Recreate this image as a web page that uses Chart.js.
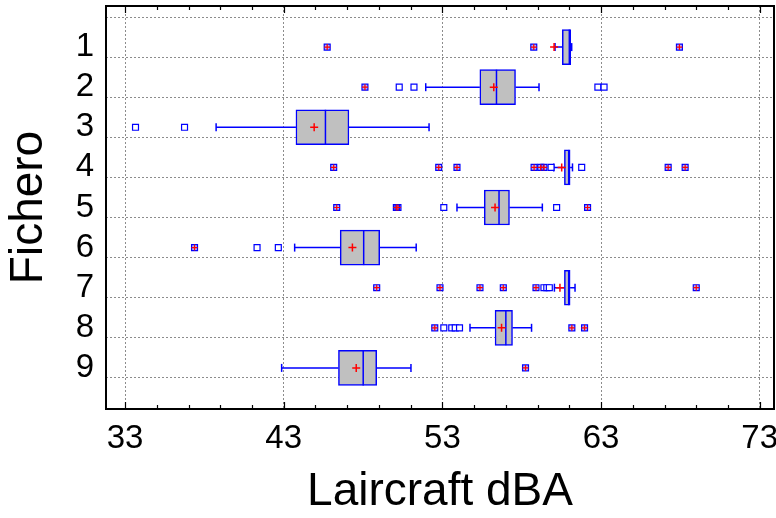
<!DOCTYPE html>
<html>
<head>
<meta charset="utf-8">
<script src="https://cdn.jsdelivr.net/npm/chart.js@4"></script>
<style>body{margin:0;background:#fff}</style>
</head>
<body>
<canvas id="boxChart" width="776" height="518"></canvas>
<script>
// box plot values per fichero (dBA)
const fichero = [1, 2, 3, 4, 5, 6, 7, 8, 9];
const whiskerLow  = [60.10, 51.95, 38.74, 60.02, 53.92, 43.69, 60.06, 54.74, 42.87];
const q1          = [60.56, 55.36, 43.77, 60.69, 55.64, 46.56, 60.69, 56.32, 46.45];
const median      = [61.00, 56.41, 45.63, 60.96, 56.57, 48.04, 60.96, 57.00, 48.01];
const q3          = [61.09, 57.61, 47.11, 61.05, 57.23, 49.05, 61.05, 57.42, 48.86];
const whiskerHigh = [61.15, 59.09, 52.16, 61.20, 59.30, 51.35, 61.36, 58.62, 51.02];
const mean        = [60.04, 56.24, 44.92, 60.52, 56.32, 47.33, 60.41, 56.73, 47.57];
// outside points (open squares) and far outside points (squares with +)
const outside = [
  [],
  [50.28, 51.21, 62.80, 63.19],
  [33.66, 36.75],
  [59.85, 61.78],
  [53.09, 60.20],
  [41.32, 42.66],
  [59.40, 59.58, 59.74],
  [53.09, 53.59, 53.81, 54.08],
  []
];
const farOutside = [
  [45.74, 58.76, 67.94],
  [48.12],
  [],
  [46.15, 52.77, 53.92, 58.78, 59.20, 59.40, 67.23, 68.30],
  [46.34, 50.10, 50.20, 62.15],
  [37.38],
  [48.86, 52.85, 55.37, 56.84, 58.90, 69.00],
  [52.52, 61.16, 61.96],
  [58.24]
];
const xTicks = [33, 43, 53, 63, 73];
const minorStep = 2;

const BLUE = '#0000ff';
const RED = '#ff0000';
const FONT = "'Liberation Sans', Arial, sans-serif";

function pointsAt(values) {
  return values.map((v, i) => ({ x: v, y: fichero[i] }));
}

function groupPoints(groups) {
  const out = [];
  groups.forEach((vals, i) => vals.forEach(v => out.push({ x: v, y: fichero[i] })));
  return out;
}

// whisker segments, broken with null points between them
const whiskerData = [];
fichero.forEach((f, i) => {
  whiskerData.push({ x: whiskerLow[i], y: f }, { x: q1[i], y: f }, { x: null, y: null });
  whiskerData.push({ x: q3[i], y: f }, { x: whiskerHigh[i], y: f }, { x: null, y: null });
});

const boxData = fichero.map((f, i) => ({ x: [q1[i], q3[i]], y: f }));

const frame = {
  id: 'frame',
  afterDatasetsDraw(chart) {
    const { ctx, chartArea: a, scales: { x } } = chart;
    const first = xTicks[0], last = xTicks[xTicks.length - 1];
    const major = xTicks[1] - xTicks[0];
    ctx.save();
    ctx.strokeStyle = '#000';
    ctx.lineWidth = 1.2;
    for (let v = first; v <= last; v += minorStep) {
      const px = Math.round(x.getPixelForValue(v)) + 0.5;
      const len = (v - first) % major === 0 ? 7 : 4;
      ctx.beginPath();
      ctx.moveTo(px, a.top); ctx.lineTo(px, a.top + len);
      ctx.moveTo(px, a.bottom); ctx.lineTo(px, a.bottom - len);
      ctx.stroke();
    }
    ctx.lineWidth = 2;
    ctx.strokeRect(a.left, a.top, a.right - a.left, a.bottom - a.top);
    ctx.restore();
  }
};

const ctx = document.getElementById('boxChart').getContext('2d');
new Chart(ctx, {
  type: 'scatter',
  data: {
    datasets: [
      {
        type: 'bar',
        indexAxis: 'y',
        data: boxData,
        backgroundColor: '#c0c0c0',
        borderColor: BLUE,
        borderWidth: 1.5,
        borderSkipped: false,
        barThickness: 35,
        order: 4
      },
      {
        data: whiskerData,
        showLine: true,
        borderColor: BLUE,
        borderWidth: 1.5,
        pointRadius: 0,
        spanGaps: false,
        order: 5
      },
      {
        data: pointsAt(median),
        pointStyle: 'line',
        rotation: 90,
        pointRadius: 17.5,
        borderColor: BLUE,
        borderWidth: 1.5,
        order: 3
      },
      {
        data: pointsAt(whiskerLow).concat(pointsAt(whiskerHigh)),
        pointStyle: 'line',
        rotation: 90,
        pointRadius: 4,
        borderColor: BLUE,
        borderWidth: 1.5,
        order: 3
      },
      {
        data: groupPoints(outside),
        pointStyle: 'rect',
        pointRadius: 4.2,
        backgroundColor: '#ffffff',
        borderColor: BLUE,
        borderWidth: 1.2,
        order: 2
      },
      {
        data: groupPoints(farOutside),
        pointStyle: 'rect',
        pointRadius: 4.2,
        backgroundColor: 'rgba(0,0,255,0.3)',
        borderColor: BLUE,
        borderWidth: 1.2,
        order: 2
      },
      {
        data: groupPoints(farOutside),
        pointStyle: 'cross',
        pointRadius: 3,
        borderColor: RED,
        borderWidth: 1.2,
        order: 1
      },
      {
        data: pointsAt(mean),
        pointStyle: 'cross',
        pointRadius: 4,
        borderColor: RED,
        borderWidth: 1.5,
        order: 1
      }
    ]
  },
  options: {
    responsive: false,
    animation: false,
    events: [],
    layout: { autoPadding: false, padding: { top: 6, right: 2, left: 0, bottom: 0 } },
    plugins: { legend: { display: false }, tooltip: { enabled: false } },
    scales: {
      x: {
        type: 'linear',
        min: 31.8,
        max: 73.9,
        afterBuildTicks: s => { s.ticks = xTicks.map(v => ({ value: v })); },
        afterFit: s => { s.height = 109; s.paddingLeft = 0; s.paddingRight = 0; },
        grid: { color: '#8c8c8c', lineWidth: 1, drawTicks: false },
        border: { display: false, dash: [2, 2] },
        ticks: { color: '#000', padding: 10, font: { family: FONT, size: 33 } },
        title: {
          display: true,
          text: 'Laircraft dBA',
          color: '#000',
          padding: { top: 0, bottom: 0 },
          font: { family: FONT, size: 46, lineHeight: 1.1 }
        }
      },
      y: {
        type: 'linear',
        reverse: true,
        min: 0.24,
        max: 9.76,
        afterBuildTicks: s => {
          const t = [];
          for (let i = 0; i <= fichero.length; i++) t.push(i + 0.5);
          s.ticks = t.concat(fichero).sort((a, b) => a - b).map(v => ({ value: v }));
        },
        afterFit: s => { s.width = 106; s.paddingTop = 0; s.paddingBottom = 0; },
        grid: {
          drawTicks: false,
          lineWidth: 1,
          color: c => (c.tick && c.tick.value % 1 !== 0) ? '#8c8c8c' : 'rgba(0,0,0,0)'
        },
        border: { display: false, dash: [2, 2] },
        ticks: {
          autoSkip: false,
          color: '#000',
          padding: 12,
          font: { family: FONT, size: 33 },
          callback: v => Number.isInteger(v) ? String(v) : ''
        },
        title: {
          display: true,
          text: 'Fichero',
          color: '#000',
          padding: { top: 2, bottom: 0 },
          font: { family: FONT, size: 46, lineHeight: 1.2 }
        }
      }
    }
  },
  plugins: [frame]
});
</script>
</body>
</html>
